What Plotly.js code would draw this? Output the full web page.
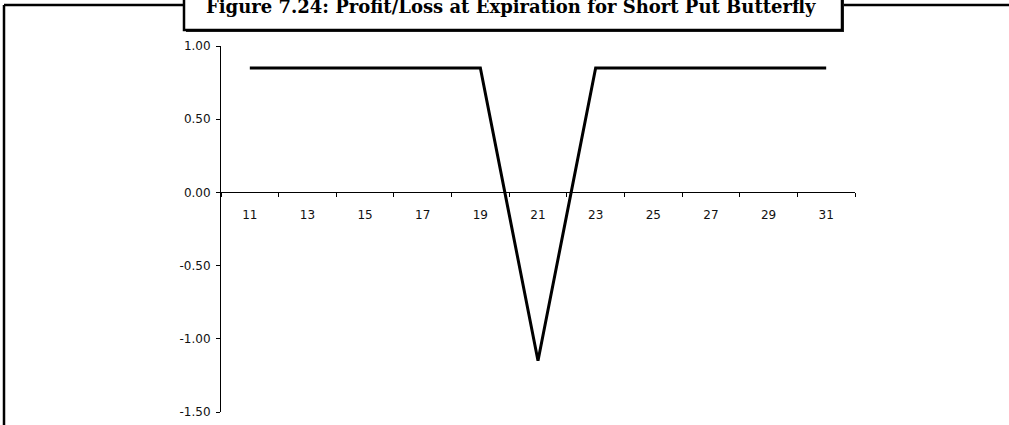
<!DOCTYPE html>
<html>
<head>
<meta charset="utf-8">
<script src="https://cdn.plot.ly/plotly-3.0.1.min.js"></script>
<style>
  html, body { margin: 0; padding: 0; background: #fff; }
  #chart { width: 1009px; height: 425px; }
</style>
</head>
<body>
<div id="chart"></div>
<script>
// ---- data ----
const titleText = "Figure 7.24: Profit/Loss at Expiration for Short Put Butterfly";
const stockPrice = [11,12,13,14,15,16,17,18,19,20,21,22,23,24,25,26,27,28,29,30,31];
const profitLoss = [0.85,0.85,0.85,0.85,0.85,0.85,0.85,0.85,0.85,-0.15,-1.15,-0.15,0.85,0.85,0.85,0.85,0.85,0.85,0.85,0.85,0.85];
const xLabelVals = [11,13,15,17,19,21,23,25,27,29,31];
const xLabelText = ["11","13","15","17","19","21","23","25","27","29","31"];
const xTickVals = [10,12,14,16,18,20,22,24,26,28,30,32];
const yTickVals = [-1.5,-1.0,-0.5,0,0.5,1.0];
const yTickText = ["-1.50","-1.00","-0.50","0.00","0.50","1.00"];

// ---- layout geometry ----
const W = 1009, H = 425;
const M = {l: 221, r: 154, t: 46, b: 13};
const pw = W - M.l - M.r, ph = H - M.t - M.b;
const px = x => (x - M.l) / pw;          // pixel -> paper x
const py = y => (H - M.b - y) / ph;      // pixel -> paper y

const axisFont = {family: "DejaVu Sans, Verdana, sans-serif", size: 12, color: "#111"};

const trace = {
  x: stockPrice, y: profitLoss, type: "scatter", mode: "lines",
  line: {color: "#000", width: 3}, xaxis: "x", yaxis: "y",
  hoverinfo: "skip", showlegend: false
};

const layout = {
  width: W, height: H,
  margin: M,
  paper_bgcolor: "#fff", plot_bgcolor: "#fff",
  showlegend: false,
  xaxis: {
    range: [10, 32], anchor: "free", position: 0.6,
    showline: true, linecolor: "#000", linewidth: 1,
    showgrid: false, zeroline: false,
    tickmode: "array", tickvals: xLabelVals, ticktext: xLabelText,
    ticks: "", ticklabelstandoff: 11, tickfont: axisFont,
    minor: {tickmode: "array", tickvals: xTickVals, ticks: "outside", ticklen: 4, tickwidth: 1, tickcolor: "#000", showgrid: false}
  },
  yaxis: {
    range: [-1.5, 1.0],
    showline: true, linecolor: "#000", linewidth: 1,
    showgrid: false, zeroline: false,
    tickmode: "array", tickvals: yTickVals, ticktext: yTickText,
    ticks: "outside", ticklen: 4, tickwidth: 1, tickcolor: "#000",
    ticklabelstandoff: 3, tickfont: axisFont
  },
  shapes: [
    // outer frame (top and left edges)
    {type: "line", xref: "paper", yref: "paper", x0: px(4), x1: px(1020), y0: py(5), y1: py(5), line: {color: "#000", width: 2.5}, layer: "above"},
    {type: "line", xref: "paper", yref: "paper", x0: px(4), x1: px(4), y0: py(5), y1: py(440), line: {color: "#000", width: 2.5}, layer: "above"},
    // title box shadow and box
    {type: "rect", xref: "paper", yref: "paper", x0: px(186), x1: px(844), y0: py(-10), y1: py(32), fillcolor: "#222", line: {width: 0}, layer: "above"},
    {type: "rect", xref: "paper", yref: "paper", x0: px(184), x1: px(842), y0: py(-10), y1: py(30), fillcolor: "#fff", line: {color: "#000", width: 2.5}, layer: "above"}
  ],
  annotations: [
    {text: "<b>" + titleText + "</b>", xref: "paper", yref: "paper",
     x: px(511), y: py(6), xanchor: "center", yanchor: "middle", showarrow: false,
     font: {family: "DejaVu Serif, serif", size: 18, color: "#000"}}
  ]
};

Plotly.newPlot("chart", [trace], layout, {staticPlot: true, displayModeBar: false});
</script>
</body>
</html>
